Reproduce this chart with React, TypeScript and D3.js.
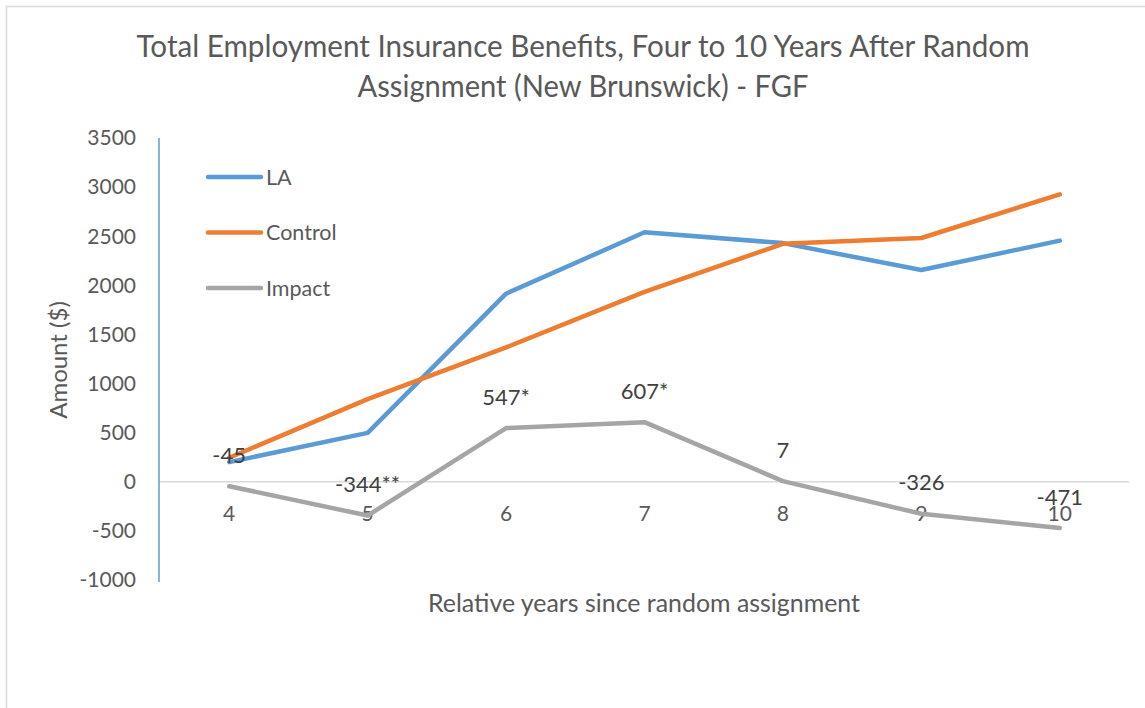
import React from "react";
import * as d3 from "d3";

const years = ["4", "5", "6", "7", "8", "9", "10"];
const laValues = [200, 498, 1915, 2540, 2430, 2156, 2455];
const controlValues = [245, 842, 1368, 1933, 2423, 2482, 2926];
const impactValues = [-45, -344, 547, 607, 7, -326, -471];
const impactLabels = ["-45", "-344**", "547*", "607*", "7", "-326", "-471"];
const yTicks = [-1000, -500, 0, 500, 1000, 1500, 2000, 2500, 3000, 3500];
const seriesNames = ["LA", "Control", "Impact"];
const seriesColors = ["#5B9BD5", "#ED7D31", "#A5A5A5"];

const W = 1145;
const H = 708;
const FONT = "Lato, 'Open Sans', sans-serif";
const TXT = "#595959";

export default function App() {
  const x = d3.scalePoint<string>().domain(years).range([160, 1129]).padding(0.5);
  const y = d3.scaleLinear().domain([-1000, 3500]).range([580, 138]);
  const line = d3
    .line<number>()
    .x((_, i) => x(years[i]) as number)
    .y((d) => y(d));
  const series = [laValues, controlValues, impactValues];

  return (
    <svg
      width={W}
      height={H}
      style={{ position: "absolute", left: 0, top: 0, background: "#fff" }}
      fontFamily={FONT}
    >
      <rect x={6.5} y={6.5} width={W + 10} height={H + 10} fill="#fff" stroke="#D9D9D9" strokeWidth={1.5} />
      <text x={583} y={57} textAnchor="middle" fontSize={30} fill={TXT} textLength={893} lengthAdjust="spacingAndGlyphs">
        Total Employment Insurance Benefits, Four to 10 Years After Random
      </text>
      <text x={583} y={97} textAnchor="middle" fontSize={30} fill={TXT} textLength={451} lengthAdjust="spacingAndGlyphs">
        Assignment (New Brunswick) - FGF
      </text>

      {/* zero line */}
      <line x1={159} x2={1129} y1={y(0)} y2={y(0)} stroke="#D9D9D9" strokeWidth={1.5} />
      {/* y axis */}
      <line x1={159} x2={159} y1={138} y2={582} stroke="#5B9BD5" strokeWidth={1.5} />
      {yTicks.map((t) => (
        <text key={t} x={136} y={y(t)} dy="0.35em" textAnchor="end" fontSize={21} fill={TXT}>
          {t}
        </text>
      ))}
      {years.map((c) => (
        <text key={c} x={x(c)} y={514} dy="0.35em" textAnchor="middle" fontSize={21} fill={TXT}>
          {c}
        </text>
      ))}
      <text
        transform="translate(59,360) rotate(-90)"
        textAnchor="middle"
        dy="0.35em"
        fontSize={24}
        fill={TXT}
      >
        Amount ($)
      </text>
      <text x={644} y={603} dy="0.35em" textAnchor="middle" fontSize={25} fill={TXT} textLength={432} lengthAdjust="spacingAndGlyphs">
        Relative years since random assignment
      </text>

      {series.map((s, i) => (
        <path
          key={seriesNames[i]}
          d={line(s) || ""}
          fill="none"
          stroke={seriesColors[i]}
          strokeWidth={4.5}
          strokeLinecap="round"
          strokeLinejoin="round"
        />
      ))}

      {impactValues.map((v, i) => (
        <text
          key={i}
          x={x(years[i])}
          y={y(v) - 31}
          dy="0.35em"
          textAnchor="middle"
          fontSize={22}
          fill="#404040"
        >
          {impactLabels[i]}
        </text>
      ))}

      {seriesNames.map((n, i) => (
        <g key={n} transform={`translate(0,${177 + i * 55.5})`}>
          <line x1={208} x2={261} y1={0} y2={0} stroke={seriesColors[i]} strokeWidth={4.5} strokeLinecap="round" />
          <text x={266} y={0} dy="0.35em" fontSize={21.5} fill={TXT}>
            {n}
          </text>
        </g>
      ))}
    </svg>
  );
}
